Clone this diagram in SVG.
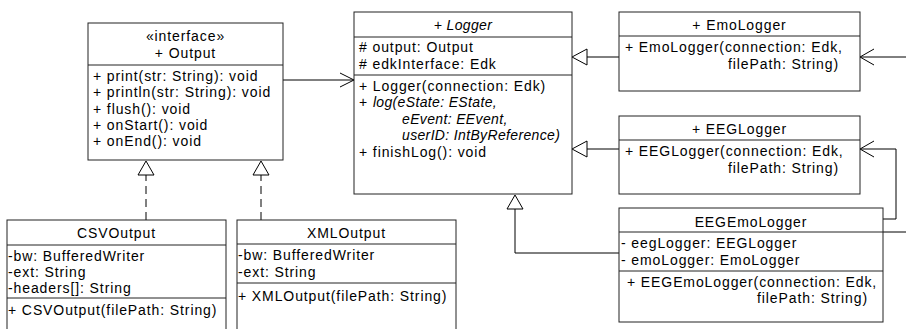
<svg xmlns="http://www.w3.org/2000/svg" width="906" height="329" viewBox="0 0 906 329">
  <style>
    text { font-family: "Liberation Sans", Arial, sans-serif; font-size: 14px; letter-spacing: 0.9px; fill: #000; }
    .c { text-anchor: middle; }
    .i { font-style: italic; letter-spacing: 0.35px; }
    .box { fill: #fff; stroke: #222; stroke-width: 1; }
    .sep { stroke: #222; stroke-width: 1; }
    .ln { fill: none; stroke: #000; stroke-width: 1; }
    .dash { stroke-dasharray: 8 5; }
    .tri { fill: #fff; stroke: #000; stroke-width: 1; }
  </style>

  <!-- connectors -->
  <g id="connectors">
    <!-- Output used by Logger -->
    <line class="ln" x1="283" y1="80" x2="354" y2="80"/>
    <polyline class="ln" points="340,73 354,80 340,87"/>
    <!-- EmoLogger extends Logger -->
    <line class="ln" x1="587" y1="57" x2="619" y2="57"/>
    <polygon class="tri" points="572,57 587,49 587,65"/>
    <!-- EEGLogger extends Logger -->
    <line class="ln" x1="587" y1="149" x2="619" y2="149"/>
    <polygon class="tri" points="572,149 587,141 587,157"/>
    <!-- EEGEmoLogger extends Logger -->
    <polyline class="ln" points="619,253 515,253 515,209"/>
    <polygon class="tri" points="515,195 507,209 523,209"/>
    <!-- CSVOutput implements Output -->
    <line class="ln dash" x1="146" y1="220" x2="146" y2="175"/>
    <polygon class="tri" points="146,161 138,175 154,175"/>
    <!-- XMLOutput implements Output -->
    <line class="ln dash" x1="261" y1="220" x2="261" y2="175"/>
    <polygon class="tri" points="261,161 253,175 269,175"/>
    <!-- EEGEmoLogger holds an EEGLogger -->
    <polyline class="ln" points="883,219 896,219 896,149 860,149"/>
    <polyline class="ln" points="874,141 860,149 874,157"/>
    <!-- EEGEmoLogger holds an EmoLogger -->
    <line class="ln" x1="906" y1="57" x2="860" y2="57"/>
    <polyline class="ln" points="874,49 860,57 874,65"/>
    <line class="ln" x1="883" y1="232" x2="906" y2="232"/>
  </g>

  <!-- Output interface -->
  <g id="output">
    <rect class="box" x="88" y="23" width="195" height="137"/>
    <line class="sep" x1="88" y1="65" x2="283" y2="65"/>
    <text class="c" x="185.5" y="41">«interface»</text>
    <text class="c" x="185.5" y="58">+ Output</text>
    <text x="93" y="81">+ print(str: String): void</text>
    <text x="93" y="97">+ println(str: String): void</text>
    <text x="93" y="113.5">+ flush(): void</text>
    <text x="93" y="130">+ onStart(): void</text>
    <text x="93" y="146">+ onEnd(): void</text>
  </g>

  <!-- Logger (abstract) -->
  <g id="logger">
    <rect class="box" x="354" y="12" width="218" height="182"/>
    <line class="sep" x1="354" y1="37" x2="572" y2="37"/>
    <line class="sep" x1="354" y1="75" x2="572" y2="75"/>
    <text class="c i" x="463" y="30">+ Logger</text>
    <text x="359" y="52"># output: Output</text>
    <text x="359" y="68.5"># edkInterface: Edk</text>
    <text x="359" y="91">+ Logger(connection: Edk)</text>
    <text x="359" y="107">+ <tspan class="i">log(eState: EState,</tspan></text>
    <text class="i" x="402" y="124">eEvent: EEvent,</text>
    <text class="i" x="402" y="140">userID: IntByReference)</text>
    <text x="359" y="157">+ finishLog(): void</text>
  </g>

  <!-- EmoLogger -->
  <g id="emoLogger">
    <rect class="box" x="619" y="12" width="241" height="79"/>
    <line class="sep" x1="619" y1="36" x2="860" y2="36"/>
    <text class="c" x="739.5" y="29.5">+ EmoLogger</text>
    <text x="625" y="52">+ EmoLogger(connection: Edk,</text>
    <text x="728" y="68.5">filePath: String)</text>
  </g>

  <!-- EEGLogger -->
  <g id="eegLogger">
    <rect class="box" x="619" y="116" width="241" height="78"/>
    <line class="sep" x1="619" y1="140" x2="860" y2="140"/>
    <text class="c" x="739.5" y="133.5">+ EEGLogger</text>
    <text x="625" y="156">+ EEGLogger(connection: Edk,</text>
    <text x="728" y="172.5">filePath: String)</text>
  </g>

  <!-- EEGEmoLogger -->
  <g id="eegEmoLogger">
    <rect class="box" x="619" y="208" width="264" height="114"/>
    <line class="sep" x1="619" y1="232" x2="883" y2="232"/>
    <line class="sep" x1="619" y1="271" x2="883" y2="271"/>
    <text class="c" x="751" y="226.5">EEGEmoLogger</text>
    <text x="621" y="248">- eegLogger: EEGLogger</text>
    <text x="621" y="265">- emoLogger: EmoLogger</text>
    <text x="627" y="286.5">+ EEGEmoLogger(connection: Edk,</text>
    <text x="757" y="303">filePath: String)</text>
  </g>

  <!-- CSVOutput -->
  <g id="csvOutput">
    <rect class="box" x="7" y="220" width="219" height="115"/>
    <line class="sep" x1="7" y1="245" x2="226" y2="245"/>
    <line class="sep" x1="7" y1="298" x2="226" y2="298"/>
    <text class="c" x="116.5" y="238">CSVOutput</text>
    <text x="8" y="261">-bw: BufferedWriter</text>
    <text x="8" y="277">-ext: String</text>
    <text x="8" y="293">-headers[]: String</text>
    <text x="8" y="314.5">+ CSVOutput(filePath: String)</text>
  </g>

  <!-- XMLOutput -->
  <g id="xmlOutput">
    <rect class="box" x="237" y="220" width="219" height="115"/>
    <line class="sep" x1="237" y1="244" x2="456" y2="244"/>
    <line class="sep" x1="237" y1="283" x2="456" y2="283"/>
    <text class="c" x="346.5" y="238">XMLOutput</text>
    <text x="238" y="260">-bw: BufferedWriter</text>
    <text x="238" y="276.5">-ext: String</text>
    <text x="238" y="300.5">+ XMLOutput(filePath: String)</text>
  </g>
</svg>
